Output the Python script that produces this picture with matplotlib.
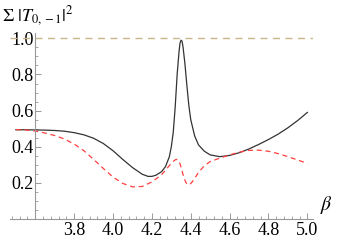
import matplotlib
matplotlib.use("Agg")
import matplotlib.pyplot as plt
from matplotlib.ticker import MultipleLocator, FixedLocator

plt.rcParams['mathtext.fontset'] = 'stix'
plt.rcParams['font.family'] = ['Liberation Serif', 'DejaVu Serif']

# black solid curve
beta_black = [3.50, 3.55, 3.60, 3.65, 3.70, 3.75, 3.80, 3.85, 3.90, 3.95, 4.00, 4.05,
              4.10, 4.15, 4.18, 4.20, 4.22, 4.25, 4.27, 4.29, 4.30, 4.31, 4.32, 4.33,
              4.34, 4.345, 4.35, 4.355, 4.36, 4.37, 4.38, 4.39, 4.40, 4.42, 4.44, 4.47,
              4.50, 4.55, 4.60, 4.65, 4.70, 4.75, 4.80, 4.85, 4.90, 4.95, 5.00]
t_black = [0.494, 0.494, 0.493, 0.492, 0.490, 0.486, 0.478, 0.466, 0.447, 0.418, 0.378, 0.330,
           0.285, 0.248, 0.236, 0.236, 0.242, 0.262, 0.290, 0.345, 0.400, 0.480, 0.620, 0.800,
           0.930, 0.975, 0.990, 0.985, 0.955, 0.860, 0.740, 0.630, 0.550, 0.460, 0.410, 0.375,
           0.355, 0.345, 0.352, 0.367, 0.388, 0.413, 0.440, 0.470, 0.505, 0.545, 0.590]

# red dashed curve
beta_red = [3.50, 3.55, 3.60, 3.65, 3.70, 3.75, 3.80, 3.85, 3.90, 3.95, 4.00, 4.05,
            4.10, 4.15, 4.20, 4.25, 4.28, 4.30, 4.315, 4.325, 4.335, 4.345, 4.355, 4.365,
            4.375, 4.385, 4.395, 4.405, 4.42, 4.44, 4.47, 4.50, 4.55, 4.60, 4.65, 4.70,
            4.75, 4.80, 4.85, 4.90, 4.95, 5.00]
t_red = [0.495, 0.493, 0.487, 0.476, 0.462, 0.443, 0.415, 0.378, 0.330, 0.280, 0.232, 0.197,
         0.178, 0.180, 0.205, 0.245, 0.283, 0.308, 0.324, 0.330, 0.326, 0.305, 0.268, 0.228,
         0.202, 0.190, 0.191, 0.202, 0.225, 0.258, 0.295, 0.318, 0.337, 0.355, 0.370, 0.380,
         0.381, 0.375, 0.362, 0.345, 0.327, 0.307]

x_ticks = [3.8, 4.0, 4.2, 4.4, 4.6, 4.8, 5.0]
x_tick_labels = ["3.8", "4.0", "4.2", "4.4", "4.6", "4.8", "5.0"]
y_ticks = [0.2, 0.4, 0.6, 0.8, 1.0]
y_tick_labels = ["0.2", "0.4", "0.6", "0.8", "1.0"]
ref_level = 1.0

fig = plt.figure(figsize=(3.38, 2.41), dpi=100)
ax = fig.add_axes([0.0296, 0.0913, 0.897, 0.772])

ax.axhline(ref_level, color='#c8b68a', lw=1.0, dashes=(5, 4))
ax.plot(beta_black, t_black, color='#333333', lw=0.9)
ax.plot(beta_red, t_red, color='#ff4040', lw=0.9, dashes=(4, 3))

ax.set_xlim(3.47, 5.03)
ax.set_ylim(0.0, 1.03)

for s in ['top', 'right']:
    ax.spines[s].set_visible(False)
ax.spines['left'].set_position(('data', 3.6))
ax.spines['bottom'].set_position(('data', 0.0))
for s in ['left', 'bottom']:
    ax.spines[s].set_color('#999999')
    ax.spines[s].set_linewidth(0.8)

ax.xaxis.set_major_locator(FixedLocator(x_ticks))
ax.set_xticklabels(x_tick_labels)
ax.yaxis.set_major_locator(FixedLocator(y_ticks))
ax.set_yticklabels(y_tick_labels)
ax.xaxis.set_minor_locator(MultipleLocator(0.04))
ax.yaxis.set_minor_locator(MultipleLocator(0.05))

ax.tick_params(which='major', direction='in', length=4, width=0.7, color='#999999',
               labelsize=13, pad=2)
ax.tick_params(which='minor', direction='in', length=2.2, width=0.6, color='#999999')
ax.tick_params(axis='y', which='major', pad=1)

fig.text(0.005, 0.985, r'$\Sigma\ |T_{0,-1}|^2$', fontsize=13, va='top', ha='left')
fig.text(0.948, 0.105, r'$\beta$', fontsize=14, va='bottom', ha='left')

fig.savefig('out.png', dpi=100)
